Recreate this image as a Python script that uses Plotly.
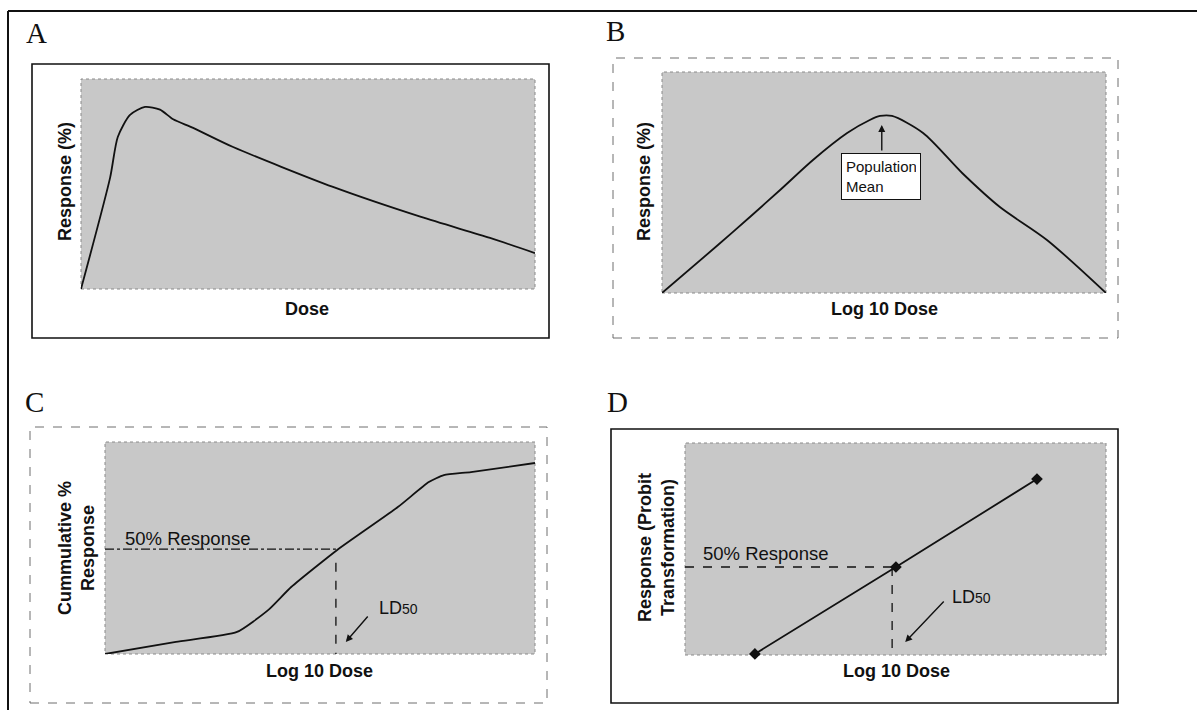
import plotly.graph_objects as go

# ---------------- data (normalised 0-100 units within each plot area) ----------------
# Panel A: dose-response (Dose vs Response %)
a_dose = [0, 6.4, 8.1, 10.8, 14.1, 17.4, 20.3, 24.7, 33.5, 55.5, 74.9, 90.1, 100]
a_resp = [0, 52.9, 72.4, 82.9, 86.7, 85.4, 80.8, 76.7, 67.6, 48.6, 34.3, 24.3, 17.1]

# Panel B: frequency response vs log10 dose (bell shape)
b_logdose = [0, 12.6, 19.8, 26.6, 34.0, 41.7, 46.8, 49.1, 51.8, 58.8, 67.6, 76.1, 86.7, 100]
b_resp = [0, 21.7, 34.4, 46.6, 60.2, 72.4, 78.3, 80.1, 80.1, 72.4, 54.3, 38.9, 24.0, 0]

# Panel C: cumulative % response vs log10 dose
c_logdose = [0, 16.5, 30.7, 38.0, 43.3, 54.0, 68.1, 75.3, 78.8, 85.1, 100]
c_cum = [0, 5.7, 10.4, 20.8, 31.6, 49.1, 69.3, 81.1, 84.4, 85.8, 90.1]
c_ld50_x = 53.7
c_50_y = 49.5

# Panel D: probit-transformed response vs log10 dose
d_logdose = [16.6, 50.1, 83.6]
d_probit = [0.5, 41.5, 83.0]
d_ld50_x = 50.0
d_50_y = 41.5

panel_letters = ["A", "B", "C", "D"]
x_titles = ["Dose", "Log 10 Dose", "Log 10 Dose", "Log 10 Dose"]
y_titles = ["Response (%)", "Response (%)", "Cummulative %<br>Response",
            "Response (Probit<br>Transformation)"]

# ---------------- layout helpers ----------------
W, H = 1197, 710
def px(x):
    return x / W
def py(y):
    return 1 - y / H

# plot areas in pixels: (left, right, top, bottom)
areas = [(81, 535, 79, 289), (662, 1106, 72, 293), (105, 535, 442, 654), (685, 1106, 443, 655)]
frames = [(32, 549, 64, 338, "solid"), (613, 1118, 58, 338, "dash"),
          (30, 547, 427, 703, "dash"), (611, 1118, 429, 703, "solid")]
letter_pos = [(36, 33), (615, 31), (34, 402), (617, 402)]
xt_pos = [(307, 309), (884, 309), (319, 671), (896, 671)]
yt_pos = [(65, 182), (644, 182), (76, 548), (656, 548)]

BOLD = "Liberation Sans"
TEXTURE = "#c8c8c8"
INK = "#111111"

fig = go.Figure()

axis_common = dict(range=[0, 100], showgrid=False, zeroline=False, showticklabels=False,
                   ticks="", showline=False, fixedrange=True)
layout = dict(width=W, height=H, margin=dict(l=0, r=0, t=0, b=0),
              paper_bgcolor="white", plot_bgcolor="rgba(0,0,0,0)", showlegend=False)
shapes = []
annotations = []

for i, (l, r, t, b) in enumerate(areas):
    n = "" if i == 0 else str(i + 1)
    layout["xaxis" + n] = dict(axis_common, domain=[px(l), px(r)], anchor="y" + n)
    layout["yaxis" + n] = dict(axis_common, domain=[py(b), py(t)], anchor="x" + n)
    # textured plot background
    shapes.append(dict(type="rect", xref="x%s domain" % n, yref="y%s domain" % n,
                       x0=0, x1=1, y0=0, y1=1, fillcolor=TEXTURE,
                       line=dict(color="#8a8a8a", width=1, dash="dot"), layer="below"))
    # panel frame
    fl, fr, ft, fb, fd = frames[i]
    shapes.append(dict(type="rect", xref="paper", yref="paper", x0=px(fl), x1=px(fr),
                       y0=py(fb), y1=py(ft),
                       line=dict(color=INK if fd == "solid" else "#6f6f6f",
                                 width=1.6 if fd == "solid" else 1, dash=fd)))
    # panel letter
    lx, ly = letter_pos[i]
    annotations.append(dict(text=panel_letters[i], x=px(lx), y=py(ly), xref="paper", yref="paper",
                            xanchor="center", yanchor="middle",
                            showarrow=False, font=dict(family="Liberation Serif", size=29, color=INK)))
    # axis titles
    tx, ty = xt_pos[i]
    annotations.append(dict(text="<b>%s</b>" % x_titles[i], x=px(tx), y=py(ty), xref="paper",
                            yref="paper", xanchor="center", yanchor="middle", showarrow=False,
                            font=dict(family=BOLD, size=18, color=INK)))
    tx, ty = yt_pos[i]
    annotations.append(dict(text="<b>%s</b>" % y_titles[i], x=px(tx), y=py(ty), xref="paper",
                            yref="paper", xanchor="center", yanchor="middle", showarrow=False,
                            textangle=-90, font=dict(family=BOLD, size=18, color=INK)))

# outer border (top and left)
shapes.append(dict(type="line", xref="paper", yref="paper", x0=px(8), x1=1, y0=py(11), y1=py(11),
                   line=dict(color=INK, width=2)))
shapes.append(dict(type="line", xref="paper", yref="paper", x0=px(8), x1=px(8), y0=py(11), y1=0,
                   line=dict(color=INK, width=2)))

# ---------------- traces ----------------
line_style = dict(color=INK, width=1.8)
fig.add_trace(go.Scatter(x=a_dose, y=a_resp, mode="lines", line=dict(line_style, shape="spline", smoothing=0.7),
                         xaxis="x", yaxis="y", cliponaxis=False))
fig.add_trace(go.Scatter(x=b_logdose, y=b_resp, mode="lines", line=dict(line_style, shape="spline", smoothing=0.8),
                         xaxis="x2", yaxis="y2", cliponaxis=False))
fig.add_trace(go.Scatter(x=c_logdose, y=c_cum, mode="lines", line=dict(line_style, shape="spline", smoothing=0.5),
                         xaxis="x3", yaxis="y3", cliponaxis=False))
fig.add_trace(go.Scatter(x=d_logdose, y=d_probit, mode="lines+markers", line=line_style,
                         marker=dict(symbol="diamond", size=9, color=INK),
                         xaxis="x4", yaxis="y4", cliponaxis=False))

# ---------------- panel B annotation ----------------
annotations.append(dict(x=49.5, y=76.0, ax=49.5, ay=63.8, xref="x2", yref="y2", axref="x2", ayref="y2",
                        text="", showarrow=True, arrowhead=2, arrowsize=1, arrowwidth=1.4, arrowcolor=INK))
annotations.append(dict(x=49.3, y=52.5, xref="x2", yref="y2", xanchor="center", yanchor="middle",
                        text="Population<br>Mean", showarrow=False,
                        align="left", bgcolor="white", bordercolor=INK, borderwidth=1, borderpad=4,
                        width=70, font=dict(family=BOLD, size=15, color=INK)))

# ---------------- panel C reference lines ----------------
shapes.append(dict(type="line", xref="x3", yref="y3", x0=0, x1=c_ld50_x, y0=c_50_y, y1=c_50_y,
                   line=dict(color=INK, width=1.3, dash="dashdot")))
shapes.append(dict(type="line", xref="x3", yref="y3", x0=c_ld50_x, x1=c_ld50_x, y0=43, y1=0,
                   line=dict(color=INK, width=1.3, dash="dash")))
annotations.append(dict(x=4.2, y=54.7, xref="x3", yref="y3", xanchor="left", yanchor="middle",
                        text="50% Response",
                        showarrow=False, font=dict(family=BOLD, size=18.5, color=INK)))
annotations.append(dict(x=63.3, y=21.7, xref="x3", yref="y3", xanchor="left", yanchor="middle",
                        text="LD<span style='font-size:14px'>50</span>",
                        showarrow=False, font=dict(family=BOLD, size=18, color=INK)))
annotations.append(dict(x=56.0, y=5.7, ax=61.4, ay=18.4, xref="x3", yref="y3", axref="x3", ayref="y3",
                        text="", showarrow=True, arrowhead=2, arrowsize=1, arrowwidth=1.4, arrowcolor=INK))

# ---------------- panel D reference lines ----------------
shapes.append(dict(type="line", xref="x4", yref="y4", x0=0, x1=d_logdose[1], y0=d_50_y, y1=d_50_y,
                   line=dict(color=INK, width=1.3, dash="dash")))
shapes.append(dict(type="line", xref="x4", yref="y4", x0=d_ld50_x - 0.8, x1=d_ld50_x - 0.8, y0=d_50_y, y1=-2,
                   line=dict(color=INK, width=1.3, dash="dash")))
annotations.append(dict(x=3.8, y=48.1, xref="x4", yref="y4", xanchor="left", yanchor="middle",
                        text="50% Response",
                        showarrow=False, font=dict(family=BOLD, size=18.5, color=INK)))
annotations.append(dict(x=62.9, y=27.4, xref="x4", yref="y4", xanchor="left", yanchor="middle",
                        text="LD<span style='font-size:14px'>50</span>",
                        showarrow=False, font=dict(family=BOLD, size=18, color=INK)))
annotations.append(dict(x=52.3, y=6.1, ax=61.8, ay=25.9, xref="x4", yref="y4", axref="x4", ayref="y4",
                        text="", showarrow=True, arrowhead=2, arrowsize=1, arrowwidth=1.4, arrowcolor=INK))

layout["shapes"] = shapes
layout["annotations"] = annotations
fig.update_layout(**layout)
fig.write_html("out.html", config={"displayModeBar": False},
               post_script="document.body.style.margin='0px';document.body.style.overflow='hidden';")
